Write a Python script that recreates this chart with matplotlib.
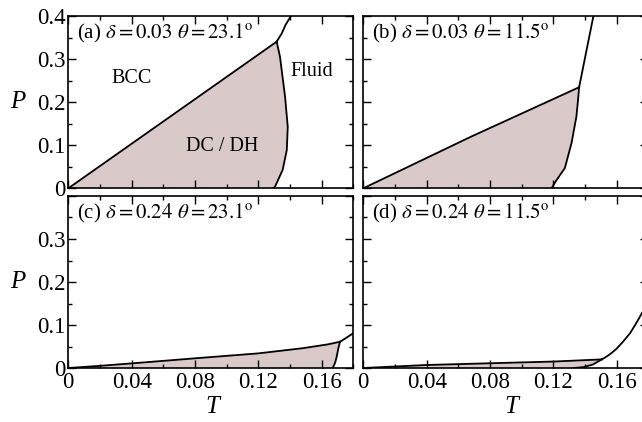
import matplotlib
matplotlib.use('Agg')
import matplotlib.pyplot as plt
from matplotlib.ticker import MultipleLocator

plt.rcParams['font.family'] = 'Liberation Serif'
plt.rcParams['mathtext.fontset'] = 'stix'

# panel (a): delta = 0.03, theta = 23.1
a_upper_T = [0.0, 0.1316]
a_upper_P = [0.0, 0.341]
a_dc_T = [0.1316, 0.1337, 0.1369, 0.1386, 0.1380, 0.1354, 0.1306, 0.1295]
a_dc_P = [0.341, 0.306, 0.213, 0.143, 0.089, 0.043, 0.004, 0.0]
a_fluid_T = [0.1316, 0.1348, 0.1372, 0.1405]
a_fluid_P = [0.341, 0.360, 0.380, 0.400]

# panel (b): delta = 0.03, theta = 11.5
b_upper_T = [0.0, 0.068, 0.1363]
b_upper_P = [0.0, 0.120, 0.235]
b_dc_T = [0.1363, 0.1356, 0.1346, 0.1315, 0.1273, 0.1220, 0.1189]
b_dc_P = [0.235, 0.205, 0.167, 0.105, 0.047, 0.019, 0.0]
b_fluid_T = [0.1363, 0.1453]
b_fluid_P = [0.235, 0.400]

# panel (c): delta = 0.24, theta = 23.1
c_upper_T = [0.0, 0.02, 0.041, 0.080, 0.120, 0.148, 0.164, 0.1716]
c_upper_P = [0.0, 0.005, 0.011, 0.0225, 0.034, 0.046, 0.055, 0.061]
c_dc_T = [0.1716, 0.1705, 0.1695, 0.1685, 0.1670]
c_dc_P = [0.061, 0.045, 0.026, 0.012, 0.0]
c_fluid_T = [0.1716, 0.1755, 0.180]
c_fluid_P = [0.061, 0.070, 0.081]

# panel (d): delta = 0.24, theta = 11.5
d_upper_T = [0.0, 0.04, 0.08, 0.12, 0.1506]
d_upper_P = [0.0, 0.007, 0.011, 0.015, 0.020]
d_dc_T = [0.1506, 0.145, 0.139, 0.133]
d_dc_P = [0.020, 0.008, 0.002, 0.0]
d_fluid_T = [0.1506, 0.1525, 0.155, 0.1575, 0.160, 0.164, 0.1685, 0.172, 0.1759, 0.180]
d_fluid_P = [0.020, 0.024, 0.030, 0.037, 0.045, 0.061, 0.081, 0.102, 0.127, 0.150]

panels = [
    ('(a)', '0.03', '23.1', a_upper_T, a_upper_P, a_dc_T, a_dc_P, a_fluid_T, a_fluid_P),
    ('(b)', '0.03', '11.5', b_upper_T, b_upper_P, b_dc_T, b_dc_P, b_fluid_T, b_fluid_P),
    ('(c)', '0.24', '23.1', c_upper_T, c_upper_P, c_dc_T, c_dc_P, c_fluid_T, c_fluid_P),
    ('(d)', '0.24', '11.5', d_upper_T, d_upper_P, d_dc_T, d_dc_P, d_fluid_T, d_fluid_P),
]

fill_col = '#d9c9c9'
W, H = 642.0, 422.0
positions = [
    (68.3, 188.3), (363.3, 188.3),
    (68.3, 368.0), (363.3, 368.0),
]
aw, ah = 285.0, 172.0

fig = plt.figure(figsize=(6.42, 4.22), dpi=100)

for i, (tag, d, th, uT, uP, dT, dP, fT, fP) in enumerate(panels):
    x0, y0 = positions[i]
    ax = fig.add_axes([x0 / W, (H - y0) / H, aw / W, ah / H])

    # DC/DH region
    poly_T = uT + dT[1:] + [0.0]
    poly_P = uP + dP[1:] + [0.0]
    ax.fill(poly_T, poly_P, color=fill_col, lw=0)
    ax.plot(uT, uP, color='black', lw=1.3)
    ax.plot(dT, dP, color='black', lw=1.3)
    ax.plot(fT, fP, color='black', lw=1.3)

    ax.set_xlim(0, 0.18)
    ax.set_ylim(0, 0.4)
    ax.xaxis.set_major_locator(MultipleLocator(0.04))
    ax.xaxis.set_minor_locator(MultipleLocator(0.02))
    ax.yaxis.set_major_locator(MultipleLocator(0.1))
    ax.yaxis.set_minor_locator(MultipleLocator(0.05))
    ax.tick_params(which='both', direction='in', top=True, right=True,
                   width=1.0, labelsize=16.5)
    ax.tick_params(which='major', length=5.5)
    ax.tick_params(which='minor', length=3)
    ax.tick_params(axis='x', pad=3)
    ax.tick_params(axis='y', pad=2)
    for s in ax.spines.values():
        s.set_linewidth(1.2)

    ax.text(0.03, 0.90,
            tag + r' $\delta = ' + d + r'$ $\theta = ' + th + r'^{\rm o}$',
            transform=ax.transAxes, fontsize=15, va='center', ha='left')

    if i % 2 == 0:
        if i == 0:
            ax.set_yticks([0, 0.1, 0.2, 0.3, 0.4])
            ax.set_yticklabels(['0', '0.1', '0.2', '0.3', '0.4'])
        else:
            ax.set_yticks([0, 0.1, 0.2, 0.3, 0.4])
            ax.set_yticklabels(['0', '0.1', '0.2', '0.3', ''])
        ax.set_ylabel('P', style='italic', fontsize=18, rotation=0,
                      va='center', ha='center')
        ax.yaxis.set_label_coords(-0.176, 0.5)
    else:
        ax.set_yticklabels([])

    if i >= 2:
        ax.set_xticks([0, 0.04, 0.08, 0.12, 0.16])
        ax.set_xticklabels(['0', '0.04', '0.08', '0.12', '0.16'])
        ax.set_xlabel('T', style='italic', fontsize=18, va='center')
        ax.xaxis.set_label_coords(0.504 if i == 2 else 0.52, -0.225)
    else:
        ax.set_xticklabels([])

    if i == 0:
        ax.text(0.040, 0.256, 'BCC', fontsize=14.5, ha='center', va='center')
        ax.text(0.097, 0.097, 'DC / DH', fontsize=14.5, ha='center', va='center')
        ax.text(0.154, 0.271, 'Fluid', fontsize=14.5, ha='center', va='center')

fig.savefig('out.png', dpi=100)
